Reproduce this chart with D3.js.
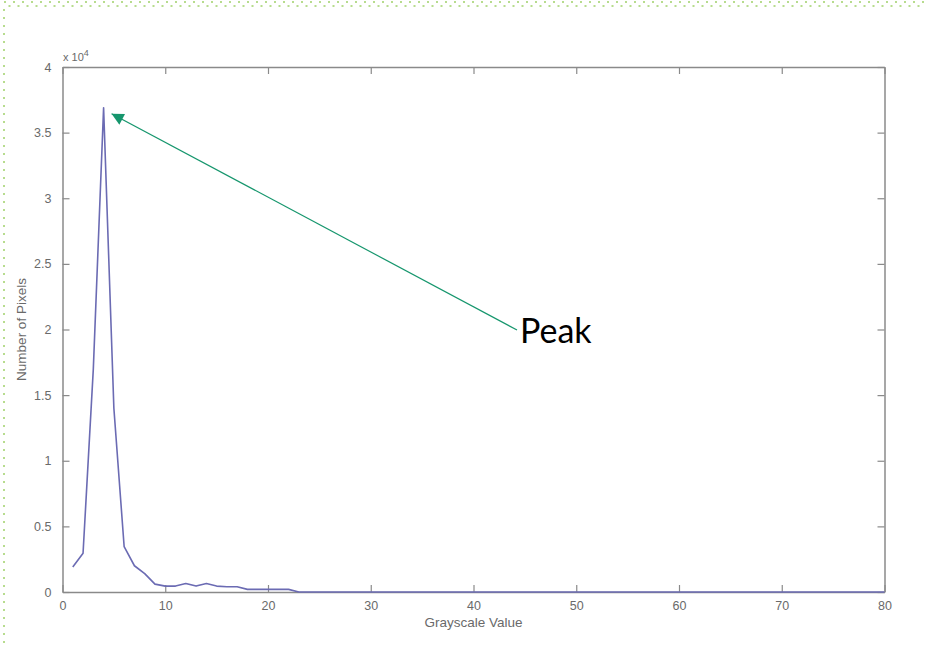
<!DOCTYPE html>
<html>
<head>
<meta charset="utf-8">
<script src="https://cdn.jsdelivr.net/npm/d3@7"></script>
<style>
  html, body { margin: 0; padding: 0; background: #fff; }
  svg { display: block; }
</style>
</head>
<body>
<svg id="chart" width="926" height="646"></svg>
<script>
// grayscale value (bin) and pixel count
var grayValues = d3.range(1, 81);
var pixelCounts = [
  1900, 2950, 17000, 36900, 14000, 3450, 2000, 1400, 600, 450,
  450, 650, 450, 650, 450, 400, 400, 200, 200, 200,
  200, 200, 0, 0, 0, 0, 0, 0, 0, 0,
  0, 0, 0, 0, 0, 0, 0, 0, 0, 0,
  0, 0, 0, 0, 0, 0, 0, 0, 0, 0,
  0, 0, 0, 0, 0, 0, 0, 0, 0, 0,
  0, 0, 0, 0, 0, 0, 0, 0, 0, 0,
  0, 0, 0, 0, 0, 0, 0, 0, 0, 0
];
var xTicks = [0, 10, 20, 30, 40, 50, 60, 70, 80];
var yTicks = [0, 5000, 10000, 15000, 20000, 25000, 30000, 35000, 40000];
var peakLabel = 'Peak';

var svg = d3.select('#chart');
var W = 926, H = 646;
var box = {left: 62.5, right: 884.5, top: 67, bottom: 592};
var axisColor = '#8a8a8a', textColor = '#6a6a6a';

var x = d3.scaleLinear().domain([0, 80]).range([box.left, box.right]);
var y = d3.scaleLinear().domain([0, 40000]).range([box.bottom, box.top]);

// dotted slide border (top + left)
svg.append('line').attr('x1', 4).attr('x2', W).attr('y1', 2).attr('y2', 2)
  .attr('stroke', '#b7dc8e').attr('stroke-width', 2).attr('stroke-dasharray', '2 7');
svg.append('line').attr('x1', 8.5).attr('x2', W).attr('y1', 6).attr('y2', 6)
  .attr('stroke', '#b7dc8e').attr('stroke-width', 2).attr('stroke-dasharray', '2 7');
svg.append('line').attr('x1', 4).attr('x2', 4).attr('y1', 9).attr('y2', H)
  .attr('stroke', '#b7dc8e').attr('stroke-width', 2).attr('stroke-dasharray', '2 6');

var fmtY = function(d){ return d3.format('~g')(d / 10000); };

// bottom axis, ticks pointing inward
var gx = svg.append('g').attr('transform', 'translate(0,' + box.bottom + ')')
  .call(d3.axisBottom(x).tickValues(xTicks).tickSizeInner(-7).tickSizeOuter(0).tickPadding(9));
var gxTop = svg.append('g').attr('transform', 'translate(0,' + box.top + ')')
  .call(d3.axisTop(x).tickValues(xTicks).tickSizeInner(-7).tickSizeOuter(0).tickFormat(''));
var gy = svg.append('g').attr('transform', 'translate(' + box.left + ',0)')
  .call(d3.axisLeft(y).tickValues(yTicks).tickFormat(fmtY).tickSizeInner(-7).tickSizeOuter(0).tickPadding(11));
var gyR = svg.append('g').attr('transform', 'translate(' + box.right + ',0)')
  .call(d3.axisRight(y).tickValues(yTicks).tickSizeInner(-7).tickSizeOuter(0).tickFormat(''));

[gx, gxTop, gy, gyR].forEach(function(g){
  g.select('.domain').attr('stroke', axisColor).attr('stroke-width', 1.5);
  g.selectAll('.tick line').attr('stroke', axisColor).attr('stroke-width', 1.2);
  g.selectAll('.tick text').attr('fill', textColor)
    .style('font-family', '"Liberation Sans", Arial, sans-serif').style('font-size', '12.5px');
});

// exponent label
var expo = svg.append('text').attr('x', 63).attr('y', 61)
  .attr('fill', textColor).style('font-family', '"Liberation Sans", Arial, sans-serif')
  .style('font-size', '11px');
expo.append('tspan').text('x 10');
expo.append('tspan').attr('dy', -5).style('font-size', '9px').text('4');

// axis titles
svg.append('text').attr('x', (box.left + box.right) / 2).attr('y', 627)
  .attr('text-anchor', 'middle').attr('fill', textColor)
  .style('font-family', '"Liberation Sans", Arial, sans-serif').style('font-size', '13.5px')
  .text('Grayscale Value');
svg.append('text')
  .attr('transform', 'translate(26,' + ((box.top + box.bottom) / 2) + ') rotate(-90)')
  .attr('text-anchor', 'middle').attr('fill', textColor)
  .style('font-family', '"Liberation Sans", Arial, sans-serif').style('font-size', '13.5px')
  .text('Number of Pixels');

// histogram line
var line = d3.line()
  .x(function(d, i){ return x(grayValues[i]); })
  .y(function(d){ return y(d); });
svg.append('path').datum(pixelCounts)
  .attr('d', line)
  .attr('fill', 'none').attr('stroke', '#6b6bb3').attr('stroke-width', 1.6)
  .attr('stroke-linejoin', 'round');

// annotation arrow from the label to the peak
var peakIdx = d3.maxIndex(pixelCounts);
var tip = [x(grayValues[peakIdx]) + 8, y(pixelCounts[peakIdx]) + 6];
var start = [517, 330];
svg.append('defs').append('marker')
  .attr('id', 'head').attr('viewBox', '0 0 10 10').attr('refX', 10).attr('refY', 5)
  .attr('markerWidth', 14).attr('markerHeight', 12).attr('markerUnits', 'userSpaceOnUse')
  .attr('orient', 'auto')
  .append('path').attr('d', 'M0,0 L10,5 L0,10 Z').attr('fill', '#16966d');
svg.append('line')
  .attr('x1', start[0]).attr('y1', start[1]).attr('x2', tip[0]).attr('y2', tip[1])
  .attr('stroke', '#16966d').attr('stroke-width', 1.2).attr('marker-end', 'url(#head)');

svg.append('text').attr('x', 520).attr('y', 343)
  .attr('fill', '#000').style('font-family', 'Lato, "Open Sans", sans-serif')
  .style('font-size', '34px').text(peakLabel);
</script>
</body>
</html>
